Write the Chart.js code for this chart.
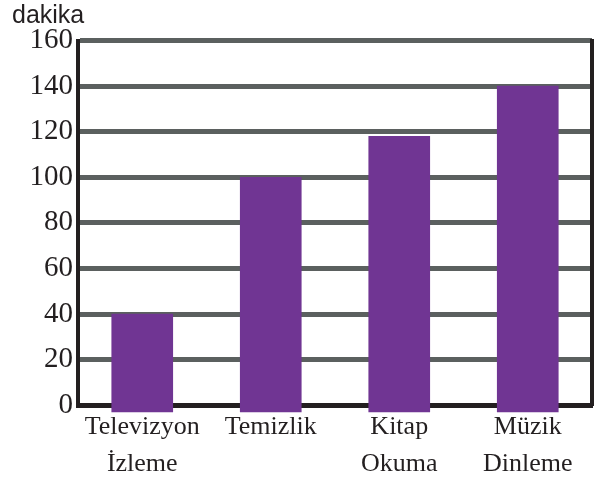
<!DOCTYPE html>
<html>
<head>
<meta charset="utf-8">
<script src="https://cdn.jsdelivr.net/npm/chart.js@4/dist/chart.umd.min.js"></script>
<style>
	html, body { margin: 0; padding: 0; background: #fff; }
	canvas { display: block; }
</style>
</head>
<body>
<canvas id="grafik" width="611" height="486"></canvas>
<script>
var kategoriler = [['Televizyon', 'İzleme'], 'Temizlik', ['Kitap', 'Okuma'], ['Müzik', 'Dinleme']];
var sureler = [40, 100, 118, 140];
var yTikleri = [0, 20, 40, 60, 80, 100, 120, 140, 160];
var birim = 'dakika';

var siyah = '#231f20';
var gri = '#5b605f';
var mor = '#703593';

var ctx = document.getElementById('grafik').getContext('2d');

var grafik = new Chart(ctx, {
	type: 'bar',
	data: {
		labels: kategoriler,
		datasets: [{
			data: sureler,
			backgroundColor: mor,
			borderWidth: 0,
			barThickness: 61,
			base: -3,
			clip: false
		}]
	},
	options: {
		responsive: false,
		animation: false,
		layout: {
			padding: { left: 12, right: 19, top: 0, bottom: 0 }
		},
		plugins: {
			legend: { display: false },
			tooltip: { enabled: false },
			title: {
				display: true,
				text: birim,
				align: 'start',
				color: siyah,
				font: { family: 'Liberation Sans', size: 25, weight: 'normal', lineHeight: 1.1 },
				padding: { top: 2, bottom: 11 }
			}
		},
		scales: {
			x: {
				grid: { display: true, drawOnChartArea: false, drawTicks: false },
				border: { display: true, color: siyah, width: 5 },
				ticks: {
					color: siyah,
					padding: 4,
					maxRotation: 0,
					autoSkip: false,
					font: { family: 'Liberation Serif', size: 26, lineHeight: 1.4 }
				}
			},
			y: {
				min: 0,
				max: 160,
				afterBuildTicks: function (scale) {
					scale.ticks = yTikleri.map(function (v) { return { value: v }; });
				},
				afterFit: function (scale) {
					scale.width = 66;
				},
				grid: {
					drawTicks: false,
					lineWidth: 5,
					color: function (c) {
						return c.tick && c.tick.value === 0 ? siyah : gri;
					}
				},
				border: { display: true, color: siyah, width: 4 },
				ticks: {
					color: siyah,
					padding: 5,
					font: { family: 'Liberation Serif', size: 29 }
				}
			},
			sag: {
				type: 'linear',
				position: 'right',
				min: 0,
				max: 160,
				grid: { display: true, drawOnChartArea: false, drawTicks: false },
				border: { display: true, color: siyah, width: 4 },
				ticks: { display: false }
			}
		}
	}
});
</script>
</body>
</html>
